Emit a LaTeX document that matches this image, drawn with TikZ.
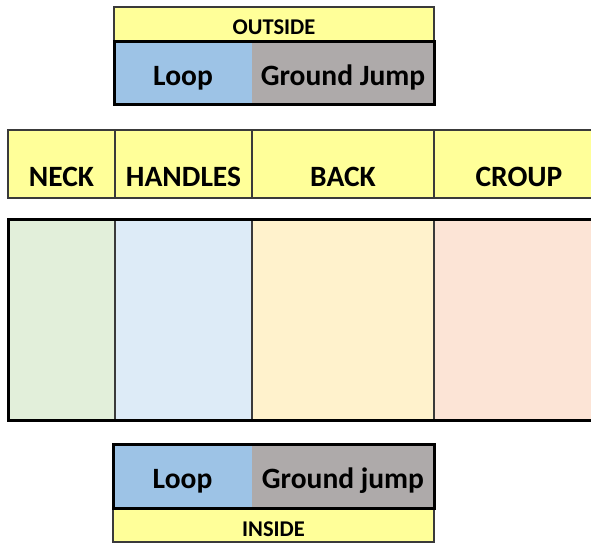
\documentclass[tikz,border=0pt]{standalone}
\usepackage{fontspec}
\setmainfont{Carlito}
\usetikzlibrary{calc}
\definecolor{hdryellow}{HTML}{FFFF99}
\definecolor{loopblue}{HTML}{9DC3E6}
\definecolor{jumpgray}{HTML}{AEAAAA}
\definecolor{neckgreen}{HTML}{E2EFDA}
\definecolor{handblue}{HTML}{DDEBF7}
\definecolor{backcream}{HTML}{FFF2CC}
\definecolor{croupeach}{HTML}{FCE4D6}
\definecolor{gridline}{HTML}{3A3A3A}
\begin{document}
\begin{tikzpicture}[x=1pt,y=-1pt,
  cell/.style={rectangle, inner sep=0pt, outer sep=0pt, draw=gridline, line width=1.4pt},
  plain/.style={rectangle, inner sep=0pt, outer sep=0pt, draw=none},
  frame/.style={draw=black, line width=3pt},
  bigtxt/.style={inner sep=0pt, anchor=base, font=\fontsize{29.5}{31}\selectfont\bfseries},
  smalltxt/.style={inner sep=0pt, anchor=base, font=\fontsize{22.5}{25}\selectfont\bfseries}]
\useasboundingbox (0,0) rectangle (591,545);

% ---------- OUTSIDE ----------
\node[cell, fill=hdryellow, minimum width=320pt, minimum height=35pt] (outY) at (274,24.5) {};
\node[plain, fill=loopblue, minimum width=138pt, minimum height=63pt] (outLoop) at (183,73.5) {};
\node[plain, fill=jumpgray, minimum width=182pt, minimum height=63pt] (outJump) at (343,73.5) {};
\draw[frame] (outLoop.north west) rectangle (outJump.south east);
\node[smalltxt] (outT) at ($(outY.south)+(0,-7)$) {OUTSIDE};
\node[bigtxt] (outLoopT) at ($(outLoop.south)+(0,-19)$) {Loop};
\node[bigtxt] (outJumpT) at ($(outJump.south)+(0,-19)$) {Ground Jump};

% ---------- HEADER ----------
\node[cell, fill=hdryellow, minimum width=107pt, minimum height=68pt] (hNeck) at (61.5,164) {};
\node[cell, fill=hdryellow, minimum width=137pt, minimum height=68pt] (hHand) at (183.5,164) {};
\node[cell, fill=hdryellow, minimum width=182pt, minimum height=68pt] (hBack) at (343,164) {};
\node[cell, fill=hdryellow, minimum width=170pt, minimum height=68pt] (hCroup) at (519,164) {};
\node[bigtxt] (hNeckT) at ($(hNeck.south)+(0,-11)$) {NECK};
\node[bigtxt] (hHandT) at ($(hHand.south)+(0,-11)$) {HANDLES};
\node[bigtxt] (hBackT) at ($(hBack.south)+(0,-11)$) {BACK};
\node[bigtxt] (hCroupT) at ($(hCroup.south)+(0,-11)$) {CROUP};

% ---------- BODY ----------
\node[cell, fill=neckgreen, minimum width=107pt, minimum height=200pt] (bNeck) at (61.5,320) {};
\node[cell, fill=handblue, minimum width=137pt, minimum height=200pt] (bHand) at (183.5,320) {};
\node[cell, fill=backcream, minimum width=182pt, minimum height=200pt] (bBack) at (343,320) {};
\node[cell, fill=croupeach, minimum width=170pt, minimum height=200pt] (bCroup) at (519,320) {};
\draw[frame] (bNeck.north west) rectangle (bCroup.south east);

% ---------- INSIDE ----------
\node[plain, fill=loopblue, minimum width=139pt, minimum height=64pt] (inLoop) at (182.5,476) {};
\node[plain, fill=jumpgray, minimum width=182pt, minimum height=64pt] (inJump) at (343,476) {};
\node[cell, fill=hdryellow, minimum width=321pt, minimum height=34pt] (inY) at (273.5,525) {};
\draw[frame] (inLoop.north west) rectangle (inJump.south east);
\node[bigtxt] (inLoopT) at ($(inLoop.south)+(0,-20)$) {Loop};
\node[bigtxt] (inJumpT) at ($(inJump.south)+(0,-20)$) {Ground jump};
\node[smalltxt] (inT) at ($(inY.south)+(0,-6)$) {INSIDE};
\end{tikzpicture}
\end{document}
